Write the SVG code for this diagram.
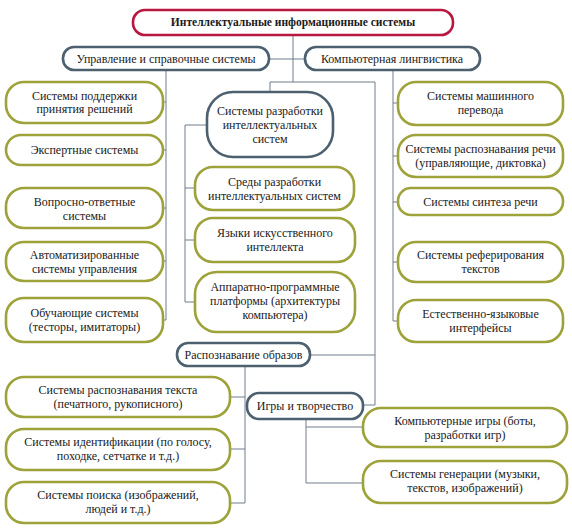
<svg xmlns="http://www.w3.org/2000/svg" width="572" height="531" viewBox="0 0 572 531">
<style>
.ol{fill:#fff;stroke:#9ea23a;stroke-width:2.6}
.sl{fill:#fff;stroke:#4c6070;stroke-width:2.6}
.rd{fill:#fff;stroke:#b8173f;stroke-width:2.6}
.c{fill:none;stroke:#6e7c8a;stroke-width:1}
</style>
<rect width="572" height="531" fill="#fff"/>
<g id="connectors" class="c">
<path d="M293,35V82M269,59H305M270,82H375M270,82V92M375,82V405M310,355H375M363,405H375"/>
<path d="M166,70V320M163,102H166M163,150H166M163,208H166M163,261H166M163,320H166"/>
<path d="M393,70V321M393,103H398M393,156H398M393,202H398M393,262H398M393,321H398"/>
<path d="M185,125H207M185,125V302M185,188H195M185,240H195M185,302H195"/>
<path d="M245,366V503M230,397H245M230,449H245M230,503H245"/>
<path d="M306,419V483M306,427H363M306,483H363"/>
</g>
<g id="title"><rect class="rd" x="133" y="10" width="320" height="25" rx="12"/><text style="font-family:'Liberation Serif','Times New Roman',serif !important;font-size:11.5px;font-weight:bold" text-anchor="middle" fill="#1a1a1a" x="293" y="26">Интеллектуальные информационные системы</text></g>
<g id="mgmt"><rect class="sl" x="63" y="47" width="206" height="23" rx="11"/><text style="font-family:'Liberation Serif','Times New Roman',serif !important;font-size:12px" text-anchor="middle" fill="#1a1a1a" x="166" y="63">Управление и справочные системы</text></g>
<g id="ling"><rect class="sl" x="305" y="47" width="175" height="23" rx="11"/><text style="font-family:'Liberation Serif','Times New Roman',serif !important;font-size:12px" text-anchor="middle" fill="#1a1a1a" x="392" y="63">Компьютерная лингвистика</text></g>
<g id="dss"><rect class="ol" x="6" y="82" width="157" height="41" rx="18"/><text style="font-family:'Liberation Serif','Times New Roman',serif !important;font-size:12px" text-anchor="middle" fill="#1a1a1a" x="84.5" y="100">Системы поддержки</text><text style="font-family:'Liberation Serif','Times New Roman',serif !important;font-size:12px" text-anchor="middle" fill="#1a1a1a" x="84.5" y="113">принятия решений</text></g>
<g id="expert"><rect class="ol" x="6" y="135" width="157" height="30" rx="15"/><text style="font-family:'Liberation Serif','Times New Roman',serif !important;font-size:12px" text-anchor="middle" fill="#1a1a1a" x="84.5" y="154">Экспертные системы</text></g>
<g id="qa"><rect class="ol" x="6" y="188" width="157" height="40" rx="18"/><text style="font-family:'Liberation Serif','Times New Roman',serif !important;font-size:12px" text-anchor="middle" fill="#1a1a1a" x="84.5" y="206">Вопросно-ответные</text><text style="font-family:'Liberation Serif','Times New Roman',serif !important;font-size:12px" text-anchor="middle" fill="#1a1a1a" x="84.5" y="220">системы</text></g>
<g id="asu"><rect class="ol" x="6" y="242" width="157" height="39" rx="18"/><text style="font-family:'Liberation Serif','Times New Roman',serif !important;font-size:12px" text-anchor="middle" fill="#1a1a1a" x="84.5" y="259">Автоматизированные</text><text style="font-family:'Liberation Serif','Times New Roman',serif !important;font-size:12px" text-anchor="middle" fill="#1a1a1a" x="84.5" y="273">системы управления</text></g>
<g id="edu"><rect class="ol" x="6" y="298" width="157" height="44" rx="18"/><text style="font-family:'Liberation Serif','Times New Roman',serif !important;font-size:12px" text-anchor="middle" fill="#1a1a1a" x="84.5" y="317">Обучающие системы</text><text style="font-family:'Liberation Serif','Times New Roman',serif !important;font-size:12px" text-anchor="middle" fill="#1a1a1a" x="84.5" y="331">(тесторы, имитаторы)</text></g>
<g id="dev"><rect class="sl" x="207" y="92" width="126" height="65" rx="26"/><text style="font-family:'Liberation Serif','Times New Roman',serif !important;font-size:12px" text-anchor="middle" fill="#1a1a1a" x="270" y="115">Системы разработки</text><text style="font-family:'Liberation Serif','Times New Roman',serif !important;font-size:12px" text-anchor="middle" fill="#1a1a1a" x="270" y="129">интеллектуальных</text><text style="font-family:'Liberation Serif','Times New Roman',serif !important;font-size:12px" text-anchor="middle" fill="#1a1a1a" x="270" y="143">систем</text></g>
<g id="env"><rect class="ol" x="195" y="167" width="159" height="43" rx="18"/><text style="font-family:'Liberation Serif','Times New Roman',serif !important;font-size:12px" text-anchor="middle" fill="#1a1a1a" x="274.5" y="186">Среды разработки</text><text style="font-family:'Liberation Serif','Times New Roman',serif !important;font-size:12px" text-anchor="middle" fill="#1a1a1a" x="274.5" y="200">интеллектуальных систем</text></g>
<g id="lang"><rect class="ol" x="195" y="218" width="160" height="44" rx="18"/><text style="font-family:'Liberation Serif','Times New Roman',serif !important;font-size:12px" text-anchor="middle" fill="#1a1a1a" x="275" y="237">Языки искусственного</text><text style="font-family:'Liberation Serif','Times New Roman',serif !important;font-size:12px" text-anchor="middle" fill="#1a1a1a" x="275" y="251">интеллекта</text></g>
<g id="hw"><rect class="ol" x="195" y="272" width="160" height="60" rx="22"/><text style="font-family:'Liberation Serif','Times New Roman',serif !important;font-size:12px" text-anchor="middle" fill="#1a1a1a" x="275" y="291">Аппаратно-программные</text><text style="font-family:'Liberation Serif','Times New Roman',serif !important;font-size:12px" text-anchor="middle" fill="#1a1a1a" x="275" y="305">платформы (архитектуры</text><text style="font-family:'Liberation Serif','Times New Roman',serif !important;font-size:12px" text-anchor="middle" fill="#1a1a1a" x="275" y="319">компьютера)</text></g>
<g id="mt"><rect class="ol" x="398" y="82" width="165" height="43" rx="18"/><text style="font-family:'Liberation Serif','Times New Roman',serif !important;font-size:12px" text-anchor="middle" fill="#1a1a1a" x="480.5" y="100">Системы машинного</text><text style="font-family:'Liberation Serif','Times New Roman',serif !important;font-size:12px" text-anchor="middle" fill="#1a1a1a" x="480.5" y="114">перевода</text></g>
<g id="asr"><rect class="ol" x="398" y="135" width="165" height="42" rx="18"/><text style="font-family:'Liberation Serif','Times New Roman',serif !important;font-size:12px" text-anchor="middle" fill="#1a1a1a" x="480.5" y="153">Системы распознавания речи</text><text style="font-family:'Liberation Serif','Times New Roman',serif !important;font-size:12px" text-anchor="middle" fill="#1a1a1a" x="480.5" y="167">(управляющие, диктовка)</text></g>
<g id="tts"><rect class="ol" x="398" y="188" width="165" height="27" rx="13"/><text style="font-family:'Liberation Serif','Times New Roman',serif !important;font-size:12px" text-anchor="middle" fill="#1a1a1a" x="480.5" y="206">Системы синтеза речи</text></g>
<g id="summ"><rect class="ol" x="398" y="242" width="165" height="40" rx="18"/><text style="font-family:'Liberation Serif','Times New Roman',serif !important;font-size:12px" text-anchor="middle" fill="#1a1a1a" x="480.5" y="259">Системы реферирования</text><text style="font-family:'Liberation Serif','Times New Roman',serif !important;font-size:12px" text-anchor="middle" fill="#1a1a1a" x="480.5" y="273">текстов</text></g>
<g id="nli"><rect class="ol" x="398" y="300" width="165" height="42" rx="18"/><text style="font-family:'Liberation Serif','Times New Roman',serif !important;font-size:12px" text-anchor="middle" fill="#1a1a1a" x="480.5" y="318">Естественно-языковые</text><text style="font-family:'Liberation Serif','Times New Roman',serif !important;font-size:12px" text-anchor="middle" fill="#1a1a1a" x="480.5" y="332">интерфейсы</text></g>
<g id="pattern"><rect class="sl" x="177" y="343" width="133" height="23" rx="11"/><text style="font-family:'Liberation Serif','Times New Roman',serif !important;font-size:12px" text-anchor="middle" fill="#1a1a1a" x="243.5" y="359">Распознавание образов</text></g>
<g id="ocr"><rect class="ol" x="6" y="377" width="224" height="40" rx="18"/><text style="font-family:'Liberation Serif','Times New Roman',serif !important;font-size:12px" text-anchor="middle" fill="#1a1a1a" x="118" y="394">Системы распознавания текста</text><text style="font-family:'Liberation Serif','Times New Roman',serif !important;font-size:12px" text-anchor="middle" fill="#1a1a1a" x="118" y="408">(печатного, рукописного)</text></g>
<g id="ident"><rect class="ol" x="6" y="429" width="224" height="41" rx="18"/><text style="font-family:'Liberation Serif','Times New Roman',serif !important;font-size:12px" text-anchor="middle" fill="#1a1a1a" x="118" y="446">Системы идентификации (по голосу,</text><text style="font-family:'Liberation Serif','Times New Roman',serif !important;font-size:12px" text-anchor="middle" fill="#1a1a1a" x="118" y="460">походке, сетчатке и т.д.)</text></g>
<g id="search"><rect class="ol" x="6" y="482" width="224" height="41" rx="18"/><text style="font-family:'Liberation Serif','Times New Roman',serif !important;font-size:12px" text-anchor="middle" fill="#1a1a1a" x="118" y="499">Системы поиска (изображений,</text><text style="font-family:'Liberation Serif','Times New Roman',serif !important;font-size:12px" text-anchor="middle" fill="#1a1a1a" x="118" y="513">людей и т.д.)</text></g>
<g id="games"><rect class="sl" x="247" y="393" width="116" height="26" rx="12"/><text style="font-family:'Liberation Serif','Times New Roman',serif !important;font-size:12px" text-anchor="middle" fill="#1a1a1a" x="305" y="410">Игры и творчество</text></g>
<g id="cgames"><rect class="ol" x="363" y="408" width="204" height="39" rx="18"/><text style="font-family:'Liberation Serif','Times New Roman',serif !important;font-size:12px" text-anchor="middle" fill="#1a1a1a" x="465" y="425">Компьютерные игры (боты,</text><text style="font-family:'Liberation Serif','Times New Roman',serif !important;font-size:12px" text-anchor="middle" fill="#1a1a1a" x="465" y="439">разработки игр)</text></g>
<g id="gen"><rect class="ol" x="363" y="461" width="204" height="42" rx="18"/><text style="font-family:'Liberation Serif','Times New Roman',serif !important;font-size:12px" text-anchor="middle" fill="#1a1a1a" x="465" y="478">Системы генерации (музыки,</text><text style="font-family:'Liberation Serif','Times New Roman',serif !important;font-size:12px" text-anchor="middle" fill="#1a1a1a" x="465" y="492">текстов, изображений)</text></g>
</svg>
